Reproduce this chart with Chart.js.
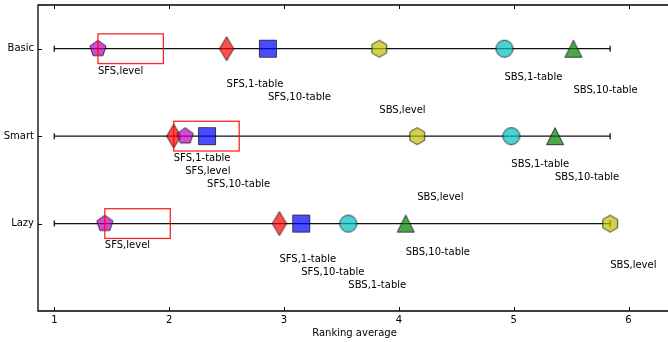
<!DOCTYPE html>
<html>
<head>
<meta charset="utf-8">
<script src="https://cdn.jsdelivr.net/npm/chart.js@4/dist/chart.umd.min.js"></script>
<style>
  html, body { margin: 0; padding: 0; background: #fff; overflow: hidden; width: 668px; height: 342px; }
  #wrap { width: 672px; height: 342px; }
</style>
</head>
<body>
<div id="wrap"><canvas id="c" width="672" height="342"></canvas></div>
<script>
// Ranking averages of each search method, per configuration (rows).
const categories = ['Basic', 'Smart', 'Lazy'];
const methods = ['SFS,level', 'SFS,1-table', 'SFS,10-table', 'SBS,level', 'SBS,1-table', 'SBS,10-table'];
const sfsLevel   = [1.38, 2.14, 1.44];
const sfs1Table  = [2.50, 2.04, 2.96];
const sfs10Table = [2.86, 2.33, 3.15];
const sbsLevel   = [3.83, 4.16, 5.84];
const sbs1Table  = [4.92, 4.98, 3.56];
const sbs10Table = [5.52, 5.36, 4.06];
const criticalDifference = 0.57;
const xTickValues = [1, 2, 3, 4, 5, 6];

const seriesValues = [sfsLevel, sfs1Table, sfs10Table, sbsLevel, sbs1Table, sbs10Table];
const markerKinds  = ['pentagon', 'thinDiamond', 'square', 'hexagon', 'circle', 'triangle'];
const markerColors = ['#bf00bf', '#ff0000', '#0000ff', '#bfbf00', '#00bfbf', '#008000'];
const FONT = { family: 'DejaVu Sans', size: 10 };
const MS = 17;

const rowValue = i => categories.length - i;           // Basic on top, Lazy at the bottom
const allValues = seriesValues.flat();
const rangeEnd = Math.max(...allValues);

// Matplotlib-like marker glyphs rendered to small canvases for use as point styles
function markerCanvas(kind, color) {
  const S = 30, c = document.createElement('canvas');
  c.width = S; c.height = S;
  const g = c.getContext('2d');
  const cx = S / 2, cy = S / 2, r = MS / 2;
  g.beginPath();
  if (kind === 'pentagon' || kind === 'hexagon') {
    const n = kind === 'pentagon' ? 5 : 6;
    for (let k = 0; k < n; k++) {
      const a = -Math.PI / 2 + k * 2 * Math.PI / n;
      const px = cx + r * Math.cos(a), py = cy + r * Math.sin(a);
      k ? g.lineTo(px, py) : g.moveTo(px, py);
    }
  } else if (kind === 'thinDiamond') {
    const h = MS * Math.SQRT1_2, w = h * 0.6;
    g.moveTo(cx, cy - h); g.lineTo(cx + w, cy); g.lineTo(cx, cy + h); g.lineTo(cx - w, cy);
  } else if (kind === 'square') {
    g.rect(cx - r, cy - r, MS, MS);
  } else if (kind === 'circle') {
    g.arc(cx, cy, r, 0, Math.PI * 2);
  } else if (kind === 'triangle') {
    g.moveTo(cx, cy - r); g.lineTo(cx + r, cy + r); g.lineTo(cx - r, cy + r);
  }
  g.closePath();
  g.globalAlpha = 0.7;
  g.fillStyle = color; g.fill();
  g.lineWidth = 1; g.strokeStyle = '#000'; g.stroke();
  return c;
}

const datasets = [];
methods.forEach((name, m) => {
  datasets.push({
    type: 'scatter',
    label: name,
    data: categories.map((_, i) => ({ x: seriesValues[m][i], y: rowValue(i) })),
    pointStyle: markerCanvas(markerKinds[m], markerColors[m]),
    pointRadius: 9,
    order: m
  });
});
categories.forEach((_, i) => {
  datasets.push({
    type: 'line',
    label: 'range',
    data: [{ x: 1, y: rowValue(i) }, { x: rangeEnd, y: rowValue(i) }],
    showLine: true,
    borderColor: '#111',
    borderWidth: 1.3,
    pointStyle: 'line',
    rotation: 90,
    pointRadius: 3,
    pointBorderWidth: 1.3,
    pointBorderColor: '#111',
    order: 20
  });
});

// Frame, inward ticks, critical-difference boxes and method labels
const overlay = {
  id: 'overlay',
  afterDatasetsDraw(chart) {
    const { ctx, chartArea: a, scales: { x, y } } = chart;
    ctx.save();

    // critical difference boxes
    ctx.strokeStyle = 'rgba(255,0,0,0.85)';
    ctx.lineWidth = 1.3;
    categories.forEach((_, i) => {
      const best = Math.min(...seriesValues.map(s => s[i]));
      const x0 = x.getPixelForValue(best), x1 = x.getPixelForValue(best + criticalDifference);
      const y0 = y.getPixelForValue(rowValue(i) + 0.17), y1 = y.getPixelForValue(rowValue(i) - 0.17);
      ctx.strokeRect(x0, y0, x1 - x0, y1 - y0);
    });

    // method labels, stepped below each row in rank order
    ctx.fillStyle = '#000';
    ctx.font = '10px "DejaVu Sans"';
    ctx.textAlign = 'left';
    ctx.textBaseline = 'middle';
    categories.forEach((_, i) => {
      const items = methods.map((name, m) => ({ name, v: seriesValues[m][i] })).sort((p, q) => p.v - q.v);
      items.forEach((it, k) => {
        const off = k < 4 ? 0.255 + 0.15 * k : 0.325 + 0.15 * (k - 4);
        ctx.fillText(it.name, x.getPixelForValue(it.v), y.getPixelForValue(rowValue(i) - off));
      });
    });

    // axes frame
    ctx.strokeStyle = '#000';
    ctx.lineWidth = 1.3;
    ctx.beginPath();
    ctx.moveTo(a.right + 2, a.top); ctx.lineTo(a.left, a.top);
    ctx.lineTo(a.left, a.bottom); ctx.lineTo(a.right + 2, a.bottom);
    ctx.stroke();

    // inward tick marks
    ctx.lineWidth = 1;
    ctx.beginPath();
    xTickValues.forEach(v => {
      const px = Math.round(x.getPixelForValue(v)) + 0.5;
      ctx.moveTo(px, a.top); ctx.lineTo(px, a.top + 4);
      ctx.moveTo(px, a.bottom); ctx.lineTo(px, a.bottom - 4);
    });
    categories.forEach((_, i) => {
      const py = Math.round(y.getPixelForValue(rowValue(i))) + 0.5;
      ctx.moveTo(a.left, py); ctx.lineTo(a.left + 4, py);
    });
    ctx.stroke();
    ctx.restore();
  }
};

new Chart(document.getElementById('c'), {
  type: 'scatter',
  data: { datasets },
  options: {
    responsive: false,
    devicePixelRatio: 1,
    animation: false,
    layout: { autoPadding: false, padding: { top: 5, right: 1, left: 0, bottom: 0 } },
    plugins: { legend: { display: false }, tooltip: { enabled: false } },
    scales: {
      x: {
        type: 'linear',
        min: 0.858,
        max: 6.37,
        afterBuildTicks: s => { s.ticks = xTickValues.map(v => ({ value: v })); },
        afterFit: s => { s.height = 31; s.paddingLeft = 0; s.paddingRight = 0; },
        ticks: { font: FONT, color: '#000', padding: 3, autoSkip: false, maxRotation: 0 },
        grid: { display: false, drawTicks: false },
        border: { display: false },
        title: { display: true, text: 'Ranking average', font: FONT, color: '#000', padding: { top: 0, bottom: 3 } }
      },
      y: {
        type: 'linear',
        min: 0,
        max: 3.5,
        afterBuildTicks: s => { s.ticks = categories.map((_, i) => ({ value: rowValue(i) })); },
        afterFit: s => { s.width = 38; s.paddingTop = 0; s.paddingBottom = 0; },
        ticks: {
          font: FONT, color: '#000', padding: 4,
          callback: v => categories[categories.length - v]
        },
        grid: { display: false, drawTicks: false },
        border: { display: false }
      }
    }
  },
  plugins: [overlay]
});
</script>
</body>
</html>
